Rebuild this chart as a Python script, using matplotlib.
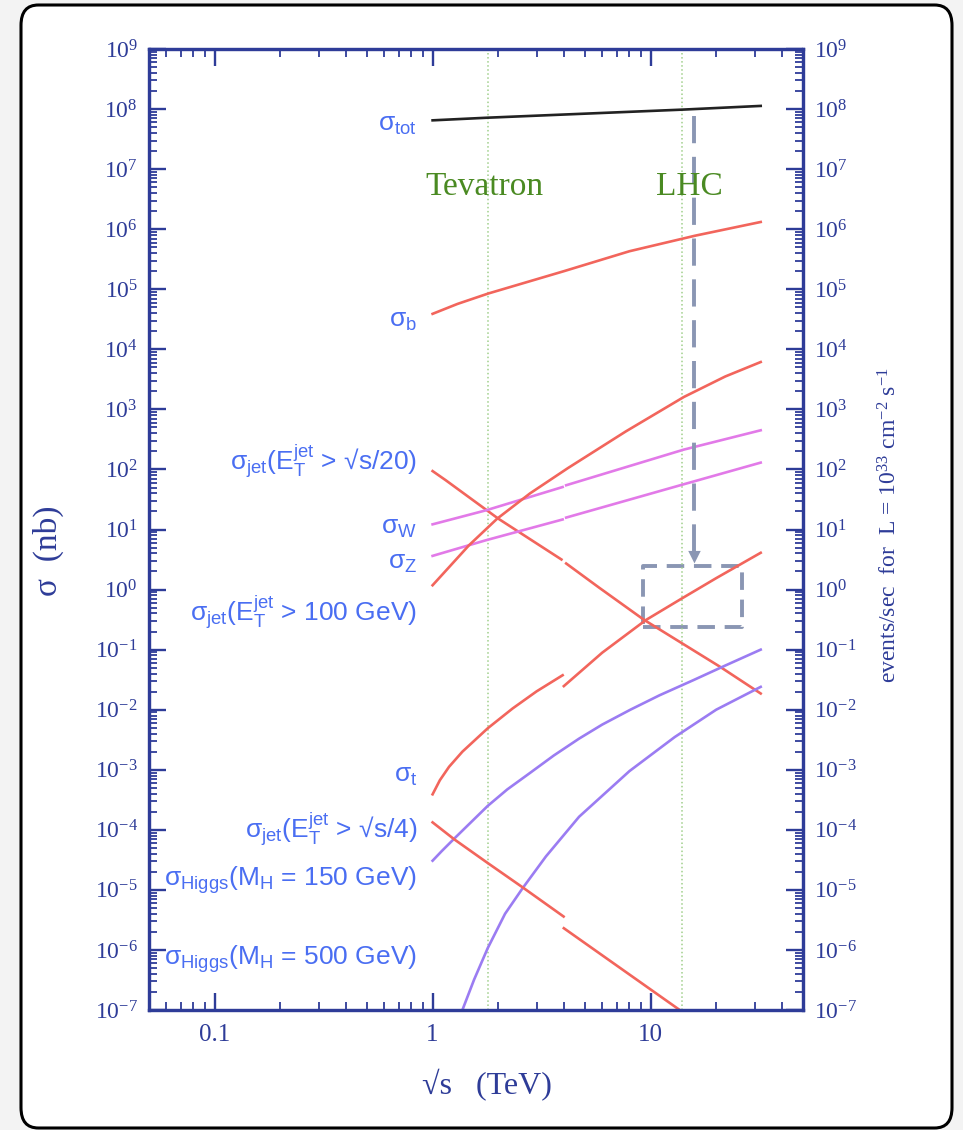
import math
import matplotlib
matplotlib.use("Agg")
import matplotlib.pyplot as plt
from matplotlib.ticker import LogLocator, FuncFormatter, NullFormatter, FixedLocator
from matplotlib.patches import FancyBboxPatch, Rectangle

plt.rcParams['mathtext.default'] = 'regular'

# cross sections (nb) vs sqrt(s) (TeV)
tot_x = [1, 1.8, 14, 32]
tot_y = [6.5e7, 7.2e7, 9.8e7, 1.13e8]

b_x = [1, 1.3, 1.8, 4, 8, 16, 32]
b_y = [3.9e4, 5.7e4, 8.5e4, 2.0e5, 4.3e5, 7.8e5, 1.32e6]

jet20_ppbar_x = [1, 1.15, 2.0, 3.9]
jet20_ppbar_y = [94, 66, 15.2, 3.17]
jet20_pp_x = [4.1, 5.8, 9.3, 20.8, 32]
jet20_pp_y = [2.72, 1.08, 0.316, 0.052, 0.0186]

w_ppbar_x = [1, 1.76, 3.95]
w_ppbar_y = [12.2, 20.9, 51]
w_pp_x = [4.1, 14.2, 32]
w_pp_y = [54.6, 214, 449]

z_ppbar_x = [1, 1.76, 3.95]
z_ppbar_y = [3.64, 6.64, 14.7]
z_pp_x = [4.1, 14.2, 32]
z_pp_y = [15.8, 56.7, 130]

jet100_x = [1, 1.47, 1.98, 2.8, 4.17, 7.7, 14.2, 22, 32]
jet100_y = [1.18, 5.48, 15.2, 40, 105, 430, 1607, 3530, 6150]

t_ppbar_x = [1.0, 1.08, 1.19, 1.37, 1.79, 2.33, 3.0, 3.95]
t_ppbar_y = [3.9e-4, 6.7e-4, 1.12e-3, 2.0e-3, 4.9e-3, 0.0105, 0.0202, 0.0375]
t_pp_x = [4.0, 6.0, 9.5, 13.9, 20, 32]
t_pp_y = [0.0247, 0.089, 0.31, 0.71, 1.55, 4.1]

h150_x = [1.0, 1.1, 1.26, 1.79, 2.2, 2.78, 3.6, 4.7, 6.0, 8.08, 11, 15.7, 22, 32]
h150_y = [3.06e-5, 4.4e-5, 7.2e-5, 2.5e-4, 4.7e-4, 8.7e-4, 1.73e-3, 3.3e-3,
          5.65e-3, 0.01, 0.0174, 0.031, 0.0543, 0.1]

h500_x = [1.38, 1.55, 1.79, 2.15, 2.59, 3.31, 4.7, 8, 12.9, 20, 32]
h500_y = [1.07e-7, 3.2e-7, 1.07e-6, 4.0e-6, 1.07e-5, 3.6e-5, 1.65e-4, 9.5e-4,
          3.5e-3, 0.01, 0.024]

jet4_ppbar_x = [1.0, 1.26, 1.79, 2.59, 3.99]
jet4_ppbar_y = [1.33e-4, 6.9e-5, 2.8e-5, 1.1e-5, 3.6e-6]
jet4_pp_x = [4.0, 13.6]
jet4_pp_y = [2.3e-6, 1.0e-7]

tevatron = 1.8
lhc = 14

navy = '#2e3c98'
lblue = '#4a6ef2'
red = '#f2655c'
magenta = '#e27ae8'
purple = '#9b7cf2'
serif = 'Liberation Serif'
sans = 'Liberation Sans'

fig = plt.figure(figsize=(9.63, 11.3), dpi=100, facecolor='#f3f3f3')
frame = FancyBboxPatch((21 / 963, 2 / 1130), 931 / 963, 1123 / 1130,
                       boxstyle='round,pad=0,rounding_size=0.018',
                       transform=fig.transFigure, fc='white', ec='black', lw=2.2, zorder=-10)
fig.patches.append(frame)

ax = fig.add_axes([0.1547, 0.1062, 0.6791, 0.8504])
ax.set_xscale('log')
ax.set_yscale('log')
ax.set_xlim(0.05, 50)
ax.set_ylim(1e-7, 1e9)
ax.patch.set_alpha(0)

# vertical lines for the two colliders
ax.axvline(tevatron, color='#9fcf8a', lw=1.1, ls=':')
ax.axvline(lhc, color='#9fcf8a', lw=1.1, ls=':')

lw = 1.9
ax.plot(tot_x, tot_y, color='#222222', lw=lw)
ax.plot(b_x, b_y, color=red, lw=lw)
ax.plot(jet20_ppbar_x, jet20_ppbar_y, color=red, lw=lw)
ax.plot(jet20_pp_x, jet20_pp_y, color=red, lw=lw)
ax.plot(w_ppbar_x, w_ppbar_y, color=magenta, lw=lw)
ax.plot(w_pp_x, w_pp_y, color=magenta, lw=lw)
ax.plot(z_ppbar_x, z_ppbar_y, color=magenta, lw=lw)
ax.plot(z_pp_x, z_pp_y, color=magenta, lw=lw)
ax.plot(jet100_x, jet100_y, color=red, lw=lw)
ax.plot(t_ppbar_x, t_ppbar_y, color=red, lw=lw)
ax.plot(t_pp_x, t_pp_y, color=red, lw=lw)
ax.plot(h150_x, h150_y, color=purple, lw=lw)
ax.plot(h500_x, h500_y, color=purple, lw=lw)
ax.plot(jet4_ppbar_x, jet4_ppbar_y, color=red, lw=lw)
ax.plot(jet4_pp_x, jet4_pp_y, color=red, lw=lw)

# curve labels
lab_x = 0.85
labels = [
    (r'σ$_{tot}$', 10**7.73),
    (r'σ$_b$', 10**4.48),
    (r'σ$_{jet}$(E$_T^{jet}$ > √s/20)', 10**2.12),
    (r'σ$_W$', 10**1.02),
    (r'σ$_Z$', 10**0.44),
    (r'σ$_{jet}$(E$_T^{jet}$ > 100 GeV)', 10**-0.38),
    (r'σ$_t$', 10**-3.1),
    (r'σ$_{jet}$(E$_T^{jet}$ > √s/4)', 10**-4.0),
    (r'σ$_{Higgs}$(M$_H$ = 150 GeV)', 10**-4.83),
    (r'σ$_{Higgs}$(M$_H$ = 500 GeV)', 10**-6.16),
]
for s, yv in labels:
    ax.text(lab_x, yv, s, ha='right', va='center', color=lblue, fontsize=19, family=sans)

ax.text(1.73, 10**6.7, 'Tevatron', ha='center', va='center', color='#4a8a22', fontsize=24, family=serif)
ax.text(15.1, 10**6.7, 'LHC', ha='center', va='center', color='#4a8a22', fontsize=24, family=serif)

# dashed arrow and box
ann = '#8a96b3'
box_x0, box_x1 = 9.2, 26.4
box_y0, box_y1 = 0.234, 2.45
arrow_x, arrow_top = 15.9, 7.8e7
ax.add_patch(Rectangle((box_x0, box_y0), box_x1 - box_x0, box_y1 - box_y0, fill=False,
                       ec=ann, lw=2.8, ls=(0, (4.5, 2.5)), joinstyle='round'))
ax.plot([arrow_x, arrow_x], [arrow_top, 4.0], color=ann, lw=2.8, ls=(0, (7, 3.5)))
ax.annotate('', xy=(arrow_x, box_y1), xytext=(arrow_x, 4.8),
            arrowprops=dict(arrowstyle='-|>,head_width=0.45,head_length=0.9', color=ann, lw=0))

fmt = FuncFormatter(lambda v, p: r'$10^{%d}$' % round(math.log10(v)))
xfmt = FuncFormatter(lambda v, p: {0.1: '0.1', 1: '1', 10: '10'}.get(round(v, 3), ''))

ax.xaxis.set_major_locator(FixedLocator([0.1, 1, 10]))
ax.xaxis.set_minor_locator(LogLocator(base=10, subs=range(2, 10), numticks=20))
ax.xaxis.set_major_formatter(xfmt)
ax.xaxis.set_minor_formatter(NullFormatter())
ax.yaxis.set_major_locator(LogLocator(base=10, numticks=30))
ax.yaxis.set_minor_locator(LogLocator(base=10, subs=range(2, 10), numticks=30))
ax.yaxis.set_major_formatter(fmt)
ax.yaxis.set_minor_formatter(NullFormatter())

ax2 = ax.twinx()
ax2.set_yscale('log')
ax2.set_ylim(1e-7, 1e9)
ax2.yaxis.set_major_locator(LogLocator(base=10, numticks=30))
ax2.yaxis.set_minor_locator(LogLocator(base=10, subs=range(2, 10), numticks=30))
ax2.yaxis.set_major_formatter(fmt)
ax2.yaxis.set_minor_formatter(NullFormatter())

for a in (ax, ax2):
    for sp in a.spines.values():
        sp.set_color(navy)
        sp.set_linewidth(2.3)
ax.tick_params(which='major', direction='in', length=12, width=1.7, color=navy, top=True,
               labelsize=17, labelcolor=navy, pad=8)
ax.tick_params(axis='x', which='major', labelsize=18, pad=10)
ax.tick_params(which='minor', direction='in', length=6, width=1.3, color=navy, top=True)
ax2.tick_params(which='major', direction='in', length=12, width=1.7, color=navy,
                labelsize=17, labelcolor=navy, pad=8)
ax2.tick_params(which='minor', direction='in', length=6, width=1.3, color=navy)
for t in ax.get_xticklabels() + ax.get_yticklabels() + ax2.get_yticklabels():
    t.set_family(serif)

# axis titles
fig.text(487 / 963, 1 - 1085 / 1130, '√s   (TeV)', family=serif, fontsize=23, color=navy,
         ha='center', va='center')
fig.text(48 / 963, 1 - 551 / 1130, 'σ  (nb)', family=serif, fontsize=24, color=navy,
         ha='center', va='center', rotation=90)
fig.text(890 / 963, 1 - 525 / 1130, r'events/sec  for  L = 10$^{33}$ cm$^{-2}$ s$^{-1}$',
         family=serif, fontsize=17, color=navy, ha='center', va='center', rotation=90)

fig.savefig('out.png', dpi=100, facecolor=fig.get_facecolor())
